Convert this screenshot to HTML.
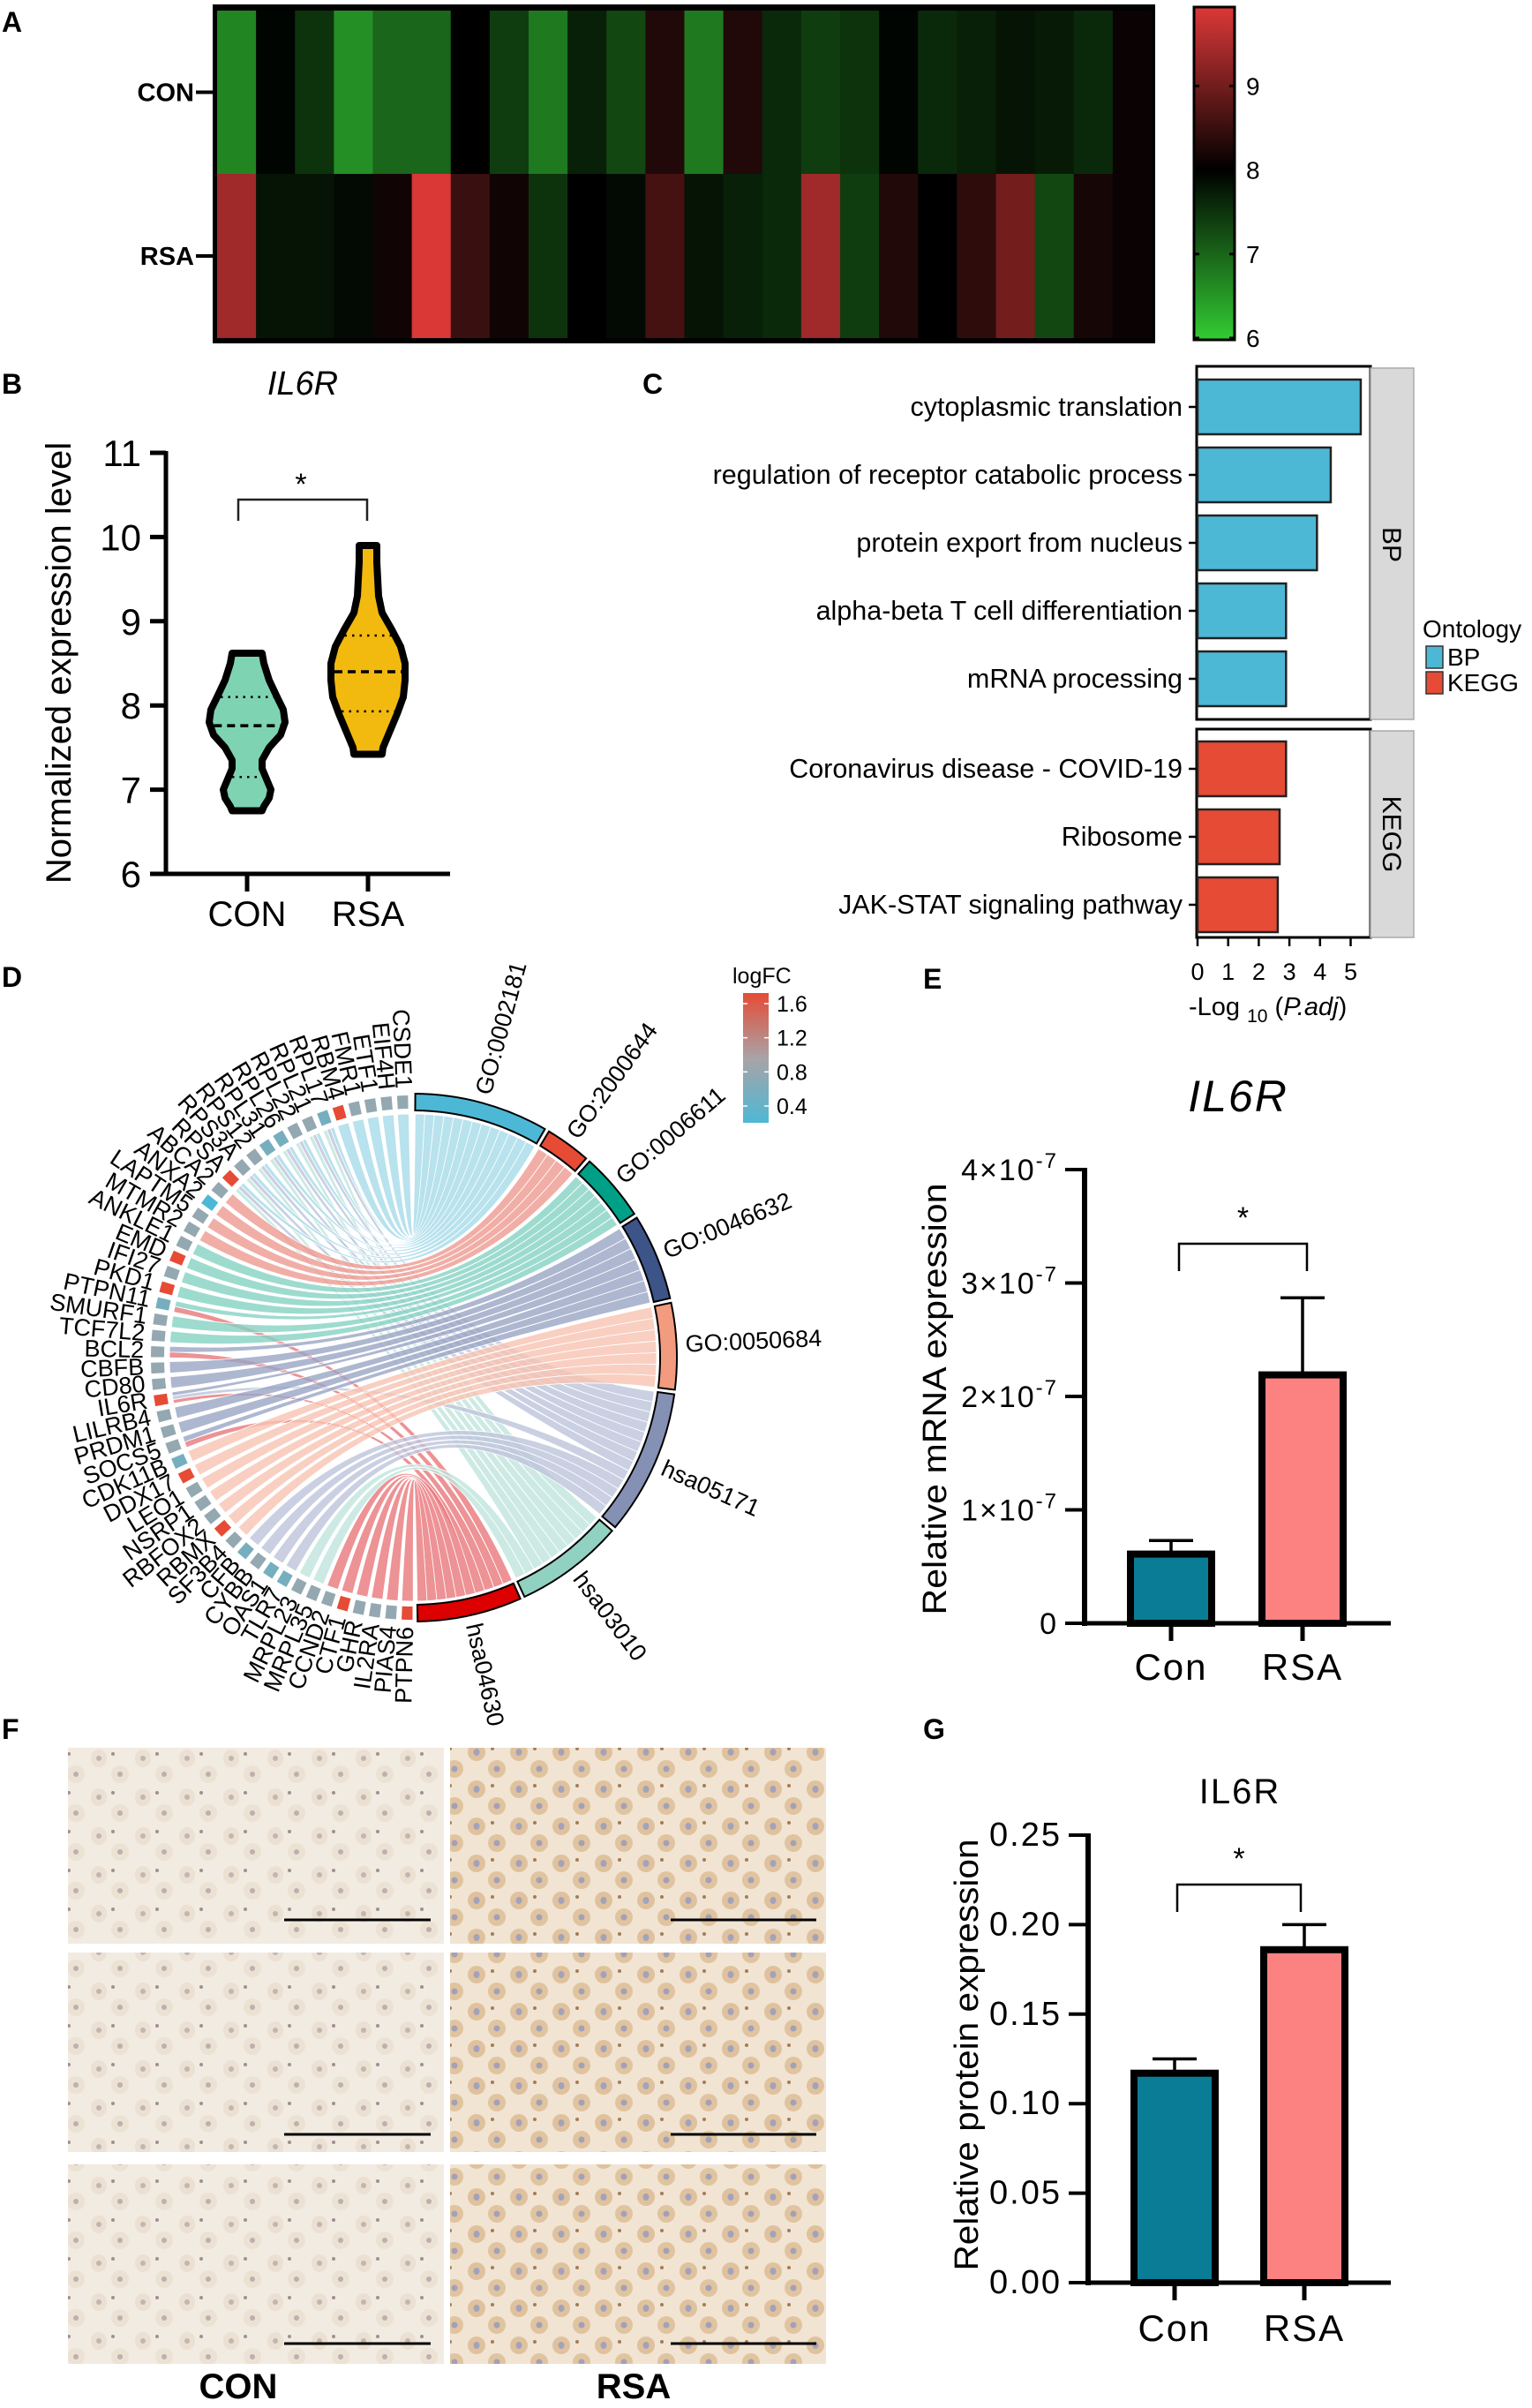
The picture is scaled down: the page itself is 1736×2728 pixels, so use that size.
<!DOCTYPE html>
<html><head><meta charset="utf-8">
<style>
html,body{margin:0;padding:0;background:#fff;}
svg{display:block;font-family:"Liberation Sans",Arial,sans-serif;}
</style></head>
<body>
<svg id="fig" width="1736" height="2728" viewBox="0 0 1736 2728" xmlns="http://www.w3.org/2000/svg">
<defs>
  <linearGradient id="hmGrad" x1="0" y1="1" x2="0" y2="0">
    <stop offset="0" stop-color="#33cc33"/>
    <stop offset="0.51" stop-color="#000000"/>
    <stop offset="1" stop-color="#dd3838"/>
  </linearGradient>
  <linearGradient id="fcGrad" x1="0" y1="1" x2="0" y2="0">
    <stop offset="0" stop-color="#4db8d5"/>
    <stop offset="0.5" stop-color="#a9a3a6"/>
    <stop offset="1" stop-color="#e64b35"/>
  </linearGradient>
  <pattern id="ihcCon" width="50" height="44" patternUnits="userSpaceOnUse">
    <rect width="50" height="44" fill="#f2ebe1"/>
    <ellipse cx="12" cy="12" rx="9" ry="10" fill="#ebe0d1"/>
    <ellipse cx="12" cy="12" rx="3" ry="3" fill="#c2b6b2"/>
    <ellipse cx="36" cy="30" rx="10" ry="10" fill="#ece2d4"/>
    <ellipse cx="36" cy="30" rx="3" ry="3" fill="#bdb0ae"/>
    <circle cx="28" cy="7" r="2" fill="#a09090"/>
  </pattern>
  <pattern id="ihcRsa" width="48" height="42" patternUnits="userSpaceOnUse">
    <rect width="48" height="42" fill="#f1e4d3"/>
    <ellipse cx="12" cy="11" rx="10" ry="10" fill="#dfc29d"/>
    <ellipse cx="12" cy="11" rx="3.5" ry="4" fill="#a4a2bb"/>
    <ellipse cx="35" cy="30" rx="10" ry="10" fill="#e0c49f"/>
    <ellipse cx="35" cy="30" rx="3.5" ry="3.5" fill="#a3a0b8"/>
    <circle cx="30" cy="7" r="2" fill="#a57c55"/>
  </pattern>
</defs>

<g font-weight="bold" font-size="32" fill="#000">
  <text x="2" y="36">A</text>
  <text x="2" y="446">B</text>
  <text x="728" y="446">C</text>
  <text x="2" y="1118">D</text>
  <text x="1046" y="1120">E</text>
  <text x="2" y="1970">F</text>
  <text x="1046" y="1970">G</text>
</g>

<g id="panelA"></g>
<g id="panelB"></g>
<g id="panelC"></g>
<g id="panelD"></g>
<g id="panelE"></g>
<g id="panelF"></g>
<g id="panelG"></g>
</svg>

<script>
// ---------- DATA ----------
const hmRows = ["CON","RSA"];
const hmCon = [6.7,7.95,7.5,6.6,7.0,7.0,8.0,7.4,6.8,7.7,7.3,8.3,6.8,8.3,7.6,7.4,7.5,7.95,7.6,7.7,7.8,7.75,7.6,8.1];
const hmRsa = [9.4,7.8,7.8,7.9,8.15,9.9,8.5,8.15,7.5,8.0,7.9,8.6,7.8,7.7,7.6,9.4,7.4,8.3,8.0,8.4,9.0,7.3,8.2,8.1];
const hmTicks = [6,7,8,9];
const vioGroups = ["CON","RSA"];
const vioConShape = [[8.62,17],[8.5,19],[8.3,25],[8.1,34],[7.95,41],[7.8,43],[7.65,38],[7.5,25],[7.35,17],[7.25,17],[7.1,23],[7.0,27],[6.9,25],[6.8,19],[6.75,17]];
const vioRsaShape = [[9.9,10],[9.7,10],[9.5,11],[9.3,12],[9.1,16],[8.9,27],[8.7,37],[8.5,42],[8.3,42],[8.1,40],[7.9,33],[7.7,25],[7.5,17],[7.42,16]];
const vioConQuart = [7.15,7.76,8.1];
const vioRsaQuart = [7.93,8.4,8.83];
const vioTicks = [6,7,8,9,10,11];
const enrTerms = ["cytoplasmic translation","regulation of receptor catabolic process","protein export from nucleus","alpha-beta T cell differentiation","mRNA processing","Coronavirus disease - COVID-19","Ribosome","JAK-STAT signaling pathway"];
const enrValues = [5.33,4.35,3.9,2.89,2.89,2.89,2.68,2.62];
const enrOntology = ["BP","BP","BP","BP","BP","KEGG","KEGG","KEGG"];
const enrTicks = [0,1,2,3,4,5];
const chGenes = ["CSDE1","EIF4H","ETF1","FMR1","RBM4","RPL17","RPL21","RPL22","RPL26","RPL31","RPS12","RPS3A","RPSA","ABCA2","ANXA2","LAPTM5","MTMR2","ANKLE1","EMD","IFI27","PKD1","PTPN11","SMURF1","TCF7L2","BCL2","CBFB","CD80","IL6R","LILRB4","PRDM1","SOCS5","CDK11B","DDX17","LEO1","NSRP1","RBFOX2","RBMX","SF3B4","CFB","CYBB","OAS1","TLR7","MRPL23","MRPL35","CCND2","CTF1","GHR","IL2RA","PIAS4","PTPN6"];
const chLogFC = [0.8,0.8,0.8,0.8,1.6,0.6,0.8,0.8,0.6,0.6,0.8,0.8,1.6,0.8,0.3,0.8,0.8,0.8,1.6,0.8,1.6,0.6,0.8,0.8,0.8,0.8,0.8,1.6,0.8,0.8,0.8,0.6,1.6,0.8,0.8,0.8,1.6,0.8,0.6,0.8,0.6,0.6,0.8,0.8,0.8,1.6,0.8,0.8,0.8,1.6];
const chTerms = ["GO:0002181","GO:2000644","GO:0006611","GO:0046632","GO:0050684","hsa05171","hsa03010","hsa04630"];
const chTermStart = [0.5,31,42,58,78,98,131,156];
const chTermEnd = [30,41,57,77,97,130,155,179];
const chLinkGene = ["CSDE1","EIF4H","ETF1","FMR1","RBM4","RPL17","RPL17","RPL17","RPL21","RPL21","RPL21","RPL22","RPL22","RPL22","RPL26","RPL26","RPL26","RPL31","RPL31","RPL31","RPS12","RPS12","RPS12","RPS3A","RPS3A","RPS3A","RPSA","RPSA","RPSA","ABCA2","ANXA2","LAPTM5","MTMR2","ANKLE1","EMD","IFI27","PKD1","PTPN11","PTPN11","SMURF1","TCF7L2","BCL2","BCL2","CBFB","CD80","IL6R","IL6R","IL6R","LILRB4","PRDM1","SOCS5","SOCS5","CDK11B","DDX17","LEO1","NSRP1","RBFOX2","RBMX","SF3B4","CFB","CYBB","OAS1","TLR7","MRPL23","MRPL35","CCND2","CTF1","GHR","IL2RA","PIAS4","PTPN6"];
const chLinkTerm = ["GO:0002181","GO:0002181","GO:0002181","GO:0002181","GO:0002181","GO:0002181","hsa05171","hsa03010","GO:0002181","hsa05171","hsa03010","GO:0002181","hsa05171","hsa03010","GO:0002181","hsa05171","hsa03010","GO:0002181","hsa05171","hsa03010","GO:0002181","hsa05171","hsa03010","GO:0002181","hsa05171","hsa03010","GO:0002181","hsa05171","hsa03010","GO:2000644","GO:2000644","GO:2000644","GO:2000644","GO:0006611","GO:0006611","GO:0006611","GO:0006611","GO:0006611","hsa04630","GO:0006611","GO:0006611","GO:0046632","hsa04630","GO:0046632","GO:0046632","GO:0046632","hsa05171","hsa04630","GO:0046632","GO:0046632","GO:0046632","hsa04630","GO:0050684","GO:0050684","GO:0050684","GO:0050684","GO:0050684","GO:0050684","GO:0050684","hsa05171","hsa05171","hsa05171","hsa05171","hsa03010","hsa03010","hsa04630","hsa04630","hsa04630","hsa04630","hsa04630","hsa04630"];
const chFcTicks = [0.4,0.8,1.2,1.6];
const mrGroups = ["Con","RSA"];
const mrMeans = [0.61,2.19];
const mrErr = [0.73,2.87];
const mrTicks = [0,1,2,3,4];
const prGroups = ["Con","RSA"];
const prMeans = [0.117,0.186];
const prErr = [0.125,0.2];
const prTicks = ["0.00","0.05","0.10","0.15","0.20","0.25"];

// ---------- HELPERS ----------
const NS="http://www.w3.org/2000/svg";
function mk(tag, attrs, parent){const e=document.createElementNS(NS,tag);for(const k in attrs)e.setAttribute(k,attrs[k]);if(parent)parent.appendChild(e);return e;}
function txt(parent,x,y,s,attrs){const t=mk('text',Object.assign({x:x,y:y},attrs||{}),parent);t.textContent=s;return t;}
function lerp(a,b,t){return a+(b-a)*t;}
function mix(c1,c2,t){return 'rgb('+[0,1,2].map(i=>Math.round(lerp(c1[i],c2[i],t))).join(',')+')';}

// ---------- A HEATMAP ----------
(function(){
  const g=document.getElementById('panelA');
  const x0=246,x1=1305,yTop=12,yMid=197,yBot=383;
  const cw=(x1-x0)/hmCon.length;
  function col(v){ if(v<8){return mix([0,0,0],[51,204,51],Math.min(1,(8-v)/2));} return mix([0,0,0],[221,56,56],Math.min(1,(v-8)/1.93)); }
  const fr=mk('rect',{x:241,y:5,width:1068,height:384,fill:'#000'},g);
  
  [[hmCon,yTop,yMid,'con'],[hmRsa,yMid,yBot,'rsa']].forEach(([arr,ya,yb,nm])=>{
    arr.forEach((v,i)=>{
      const r=mk('rect',{x:x0+i*cw,y:ya,width:cw+0.5,height:yb-ya,fill:col(v)},g);
      
      
    });
  });
  const ry=[(yTop+yMid)/2,(yMid+yBot)/2];
  hmRows.forEach((n,i)=>{
    const t=txt(g,220,ry[i]+10,n,{'text-anchor':'end','font-weight':'bold','font-size':'29'});
    
    
    mk('line',{x1:222,x2:241,y1:ry[i],y2:ry[i],stroke:'#000','stroke-width':4},g);
  });
  const cb=mk('rect',{x:1353,y:8,width:46,height:377,fill:'url(#hmGrad)',stroke:'#000','stroke-width':3},g);
  
  
  const cy=v=>383-(v-6)*95.2;
  hmTicks.forEach(v=>{
    mk('line',{x1:1353,x2:1359,y1:cy(v),y2:cy(v),stroke:'#000','stroke-width':3},g);
    mk('line',{x1:1393,x2:1399,y1:cy(v),y2:cy(v),stroke:'#000','stroke-width':3},g);
    const t=txt(g,1412,cy(v)+10,String(v),{'font-size':'28'});
    
    
  });
})();

// ---------- B VIOLIN ----------
(function(){
  const g=document.getElementById('panelB');
  const ax=188, y0=990, per=95.4;
  const Y=v=>y0-(v-6)*per;
  const cx=[280,417];
  const t=txt(g,343,447,'IL6R',{'font-style':'italic','font-size':'38','text-anchor':'middle'});
  
  const yl=txt(g,0,0,'Normalized expression level',{'font-size':'40','text-anchor':'middle',transform:'translate(80,751) rotate(-90)'});
  
  mk('line',{x1:ax,x2:ax,y1:Y(11)-2,y2:y0+2,stroke:'#000','stroke-width':5},g);
  mk('line',{x1:ax-2,x2:510,y1:y0,y2:y0,stroke:'#000','stroke-width':5},g);
  vioTicks.forEach(v=>{
    mk('line',{x1:ax-18,x2:ax,y1:Y(v),y2:Y(v),stroke:'#000','stroke-width':5},g);
    const tt=txt(g,160,Y(v)+15,String(v),{'font-size':'42','text-anchor':'end'});
    
  });
  vioGroups.forEach((n,i)=>{
    mk('line',{x1:cx[i],x2:cx[i],y1:y0,y2:y0+20,stroke:'#000','stroke-width':5},g);
    const tt=txt(g,cx[i],1049,n,{'font-size':'40','text-anchor':'middle'});
    
  });
  function violin(shape,c,fill,name,quart){
    let d='';
    shape.forEach((p,k)=>{d+=(k?'L':'M')+(c+p[1])+','+Y(p[0]);});
    for(let k=shape.length-1;k>=0;k--){d+='L'+(c-shape[k][1])+','+Y(shape[k][0]);}
    d+='Z';
    const p=mk('path',{d:d,fill:fill,stroke:'#000','stroke-width':8,'stroke-linejoin':'round'},g);
    
    function hw(v){for(let k=0;k<shape.length-1;k++){const a=shape[k],b=shape[k+1];if(v<=a[0]&&v>=b[0]){return lerp(a[1],b[1],(a[0]-v)/(a[0]-b[0]));}}return 10;}
    quart.forEach((q,k)=>{
      const w=hw(q)-4;
      mk('line',{x1:c-w,x2:c+w,y1:Y(q),y2:Y(q),stroke:'#000','stroke-width':k==1?3.5:2.5,'stroke-dasharray':k==1?'9,6':'2.5,6'},g);
    });
  }
  violin(vioConShape,cx[0],'#7ed3b2','violin-con',vioConQuart);
  violin(vioRsaShape,cx[1],'#f2b90f','violin-rsa',vioRsaQuart);
  mk('path',{d:'M270,590 V566 H416 V590',fill:'none',stroke:'#222','stroke-width':2.5},g);
  const s=txt(g,341,560,'*',{'font-size':'34','text-anchor':'middle'});
  
})();

// ---------- C ENRICHMENT ----------
(function(){
  const g=document.getElementById('panelC');
  const x0=1357, unit=34.7;
  const centers=[461,538,615,692,769,871,948,1025];
  const colors={BP:'#4db8d5',KEGG:'#e64b35'};
  mk('rect',{x:1356,y:415,width:197,height:400,fill:'#fff',stroke:'#000','stroke-width':3},g);
  mk('rect',{x:1356,y:826,width:197,height:236,fill:'#fff',stroke:'#000','stroke-width':3},g);
  mk('rect',{x:1553,y:417,width:49,height:398,fill:'#d9d9d9',stroke:'#aaa','stroke-width':1.5},g);
  mk('rect',{x:1553,y:828,width:49,height:234,fill:'#d9d9d9',stroke:'#aaa','stroke-width':1.5},g);
  const s1=txt(g,0,0,'BP',{'font-size':'30','text-anchor':'middle',transform:'translate(1567,617) rotate(90)'});
  
  const s2=txt(g,0,0,'KEGG',{'font-size':'30','text-anchor':'middle',transform:'translate(1567,945) rotate(90)'});
  
  enrTerms.forEach((n,i)=>{
    const r=mk('rect',{x:x0,y:centers[i]-31,width:enrValues[i]*unit,height:62,fill:colors[enrOntology[i]],stroke:'#222','stroke-width':2.5},g);
    
    
    mk('line',{x1:1347,x2:1356,y1:centers[i],y2:centers[i],stroke:'#000','stroke-width':2.5},g);
    const t=txt(g,1340,centers[i]+10,n,{'font-size':'30.5','text-anchor':'end'});
    
  });
  enrTicks.forEach(v=>{
    mk('line',{x1:x0+v*unit,x2:x0+v*unit,y1:1062,y2:1072,stroke:'#000','stroke-width':2.5},g);
    const t=txt(g,x0+v*unit,1110,String(v),{'font-size':'27','text-anchor':'middle'});
    
  });
  const xl=mk('text',{x:1347,y:1150,'font-size':'29'},g);
  xl.innerHTML='-Log <tspan font-size="21" dy="8">10</tspan><tspan dy="-8"> (</tspan><tspan font-style="italic">P.adj</tspan>)';
  
  const lt=txt(g,1612,722,'Ontology',{'font-size':'28'});
  
  [['BP',732],['KEGG',761]].forEach(([n,y])=>{
    const r=mk('rect',{x:1616,y:y,width:19,height:25,fill:colors[n],stroke:'#333','stroke-width':1.5},g);
    
    const t=txt(g,1640,y+22,n,{'font-size':'28'});
    
  });
})();

// ---------- D CHORD ----------
(function(){
  const g=document.getElementById('panelD');
  const cx=468, cy=1538, Rin=280, Rout=299, Rch=276;
  const termFill=['#4db8d5','#e64b35','#00a087','#3c5488','#f39b7f','#8491b4','#91d1c2','#dc0000'];
  const chordFill=['#a6dbe9','#ee9a90','#86d2c3','#9aa5c4','#f7c3b2','#bdc4db','#bfe5dc','#e9777a'];
  const P=(r,a)=>{const t=a*Math.PI/180;return [cx+r*Math.sin(t),cy-r*Math.cos(t)];};
  const gStart=357.7, gStep=(357.7-181.3)/(chGenes.length-1), gHalf=1.35;
  const geneAng=chGenes.map((n,i)=>gStart-i*gStep);
  function fcCol(v){const t=Math.max(0,Math.min(1,(v-0.3)/1.3)); return t<0.5?mix([77,184,213],[169,163,166],t/0.5):mix([169,163,166],[230,75,53],(t-0.5)/0.5);}
  const geneLinks={}, termLinks={};
  chLinkGene.forEach((gn,k)=>{(geneLinks[gn]=geneLinks[gn]||[]).push(k);(termLinks[chLinkTerm[k]]=termLinks[chLinkTerm[k]]||[]).push(k);});
  const gSlot={}, tSlot={};
  chGenes.forEach((gn,i)=>{
    const ls=geneLinks[gn]||[]; const a0=geneAng[i]-gHalf, w=2*gHalf/Math.max(1,ls.length);
    ls.forEach((k,j)=>{gSlot[k]=[a0+(ls.length-1-j)*w, a0+(ls.length-j)*w];});
  });
  chTerms.forEach((tn,ti)=>{
    const ls=(termLinks[tn]||[]).slice().sort((a,b)=>chGenes.indexOf(chLinkGene[a])-chGenes.indexOf(chLinkGene[b]));
    const a0=chTermStart[ti], w=(chTermEnd[ti]-chTermStart[ti])/Math.max(1,ls.length);
    ls.forEach((k,j)=>{tSlot[k]=[a0+j*w,a0+(j+1)*w];});
  });
  const chordG=mk('g',{},g);
  chLinkGene.forEach((gn,k)=>{
    const ti=chTerms.indexOf(chLinkTerm[k]);
    const [g1,g2]=gSlot[k], [t1,t2]=tSlot[k];
    const pg1=P(Rch,g1), pg2=P(Rch,g2), pt1=P(Rch,t1), pt2=P(Rch,t2);
    const d='M'+pg1+' A'+Rch+','+Rch+' 0 0 1 '+pg2+' Q'+cx+','+cy+' '+pt1+' A'+Rch+','+Rch+' 0 0 1 '+pt2+' Q'+cx+','+cy+' '+pg1+' Z';
    const p=mk('path',{d:d,fill:chordFill[ti],'fill-opacity':0.8,stroke:'#fff','stroke-width':0.8},chordG);
    
    
  });
  chTerms.forEach((tn,ti)=>{
    const a=chTermStart[ti], b=chTermEnd[ti];
    const o1=P(Rout,a),o2=P(Rout,b),i2=P(Rin,b),i1=P(Rin,a);
    const lg=(b-a)>180?1:0;
    const d='M'+o1+' A'+Rout+','+Rout+' 0 '+lg+' 1 '+o2+' L'+i2+' A'+Rin+','+Rin+' 0 '+lg+' 0 '+i1+' Z';
    const p=mk('path',{d:d,fill:termFill[ti],stroke:'#000','stroke-width':2},g);
    
    
    const m=(a+b)/2, lp=P(Rout+10,m);
    const t=txt(g,lp[0],lp[1],tn,{'font-size':'27','dominant-baseline':'middle',transform:'rotate('+(m-90)+','+lp[0]+','+lp[1]+')'});
    
    
  });
  chGenes.forEach((gn,i)=>{
    const a=geneAng[i], a1=a-1.2, a2=a+1.2;
    const o1=P(Rout-2,a1),o2=P(Rout-2,a2),i2=P(Rin+2,a2),i1=P(Rin+2,a1);
    const d='M'+o1+' A'+(Rout-2)+','+(Rout-2)+' 0 0 1 '+o2+' L'+i2+' A'+(Rin+2)+','+(Rin+2)+' 0 0 0 '+i1+' Z';
    const p=mk('path',{d:d,fill:fcCol(chLogFC[i])},g);
    
    
    const lp=P(Rout+6,a);
    const t=txt(g,lp[0],lp[1],gn,{'font-size':'27','text-anchor':'end','dominant-baseline':'middle',transform:'rotate('+(a+90)+','+lp[0]+','+lp[1]+')'});
    
    
  });
  const lt=txt(g,830,1114,'logFC',{'font-size':'25'});
  
  mk('rect',{x:842,y:1125,width:29,height:147,fill:'url(#fcGrad)'},g);
  const fy=v=>1253-(v-0.4)*(1253-1137)/1.2;
  chFcTicks.forEach(v=>{
    mk('line',{x1:842,x2:847,y1:fy(v),y2:fy(v),stroke:'#fff','stroke-width':1.5},g);
    mk('line',{x1:866,x2:871,y1:fy(v),y2:fy(v),stroke:'#fff','stroke-width':1.5},g);
    const t=txt(g,880,fy(v)+9,v.toFixed(1),{'font-size':'25'});
    
  });
})();

// ---------- bar chart helper for E/G ----------
function barChart(g,o){
  const Y=v=>o.y0-v*o.per;
  const tt=txt(g,o.titleX,o.titleY,o.title,{'font-size':o.titleSize,'text-anchor':'middle','font-style':o.italic?'italic':'normal','letter-spacing':'2'});
  
  const yl=txt(g,0,0,o.ylabel,{'font-size':'38','text-anchor':'middle',textLength:o.ylen,lengthAdjust:'spacingAndGlyphs',transform:'translate('+o.ylx+','+o.yly+') rotate(-90)'});
  
  mk('line',{x1:o.ax,x2:o.ax,y1:Y(o.ymax)-2,y2:o.y0+3,stroke:'#000','stroke-width':6},g);
  mk('line',{x1:o.ax-3,x2:1576,y1:o.y0,y2:o.y0,stroke:'#000','stroke-width':5},g);
  o.ticks.forEach((lab,i)=>{
    const v=o.tickVals[i];
    mk('line',{x1:o.ax-22,x2:o.ax,y1:Y(v),y2:Y(v),stroke:'#000','stroke-width':4},g);
    const t=mk('text',{x:o.ax-30,y:Y(v)+12,'font-size':o.tickSize,'text-anchor':'end','letter-spacing':'2'},g);
    t.innerHTML=lab;
    
  });
  o.groups.forEach((n,i)=>{
    const c=o.cx[i], hw=46;
    mk('line',{x1:c,x2:c,y1:Y(o.means[i]),y2:Y(o.err[i]),stroke:'#000','stroke-width':3.5},g);
    mk('line',{x1:c-25,x2:c+25,y1:Y(o.err[i]),y2:Y(o.err[i]),stroke:'#000','stroke-width':3.5},g);
    const r=mk('rect',{x:c-hw,y:Y(o.means[i]),width:2*hw,height:o.means[i]*o.per,fill:o.fills[i],stroke:'#000','stroke-width':8},g);
    
    mk('line',{x1:c,x2:c,y1:o.y0,y2:o.y0+20,stroke:'#000','stroke-width':5},g);
    const t=txt(g,c,o.catY,n,{'font-size':'42','text-anchor':'middle','letter-spacing':'2'});
    
  });
  mk('path',{d:'M'+o.br[0]+','+o.br[3]+' V'+o.br[2]+' H'+o.br[1]+' V'+o.br[3],fill:'none',stroke:'#000','stroke-width':2.5},g);
  const s=txt(g,(o.br[0]+o.br[1])/2,o.br[2]-18,'*',{'font-size':'34','text-anchor':'middle'});
  
}
barChart(document.getElementById('panelE'),{
  y0:1839, per:128.5, ax:1229, ymax:4, title:'IL6R', italic:true, titleX:1403, titleY:1259, titleSize:50,
  ylabel:'Relative mRNA expression', ylx:1072, yly:1585, ylen:489,
  ticks:mrTicks.map(v=>v===0?'0':v+'×10<tspan dy="-14" font-size="24">-7</tspan>'), tickVals:mrTicks, tickSize:34,
  groups:mrGroups, means:mrMeans, err:mrErr, cx:[1327,1476], fills:['#0a7c96','#fc8181'],
  catY:1903, br:[1336,1481,1409,1440]
});
barChart(document.getElementById('panelG'),{
  y0:2586, per:2028, ax:1233, ymax:0.25, title:'IL6R', italic:false, titleX:1405, titleY:2043, titleSize:40,
  ylabel:'Relative protein expression', ylx:1108, yly:2328, ylen:489,
  ticks:prTicks, tickVals:prTicks.map(Number), tickSize:38,
  groups:prGroups, means:prMeans, err:prErr, cx:[1331,1478], fills:['#0a7c96','#fc8181'],
  catY:2652, br:[1334,1474,2135,2166]
});

// ---------- F IHC ----------
(function(){
  const g=document.getElementById('panelF');
  const cols=[[77,503,'ihcCon','con'],[510,936,'ihcRsa','rsa']];
  const rows=[[1980,2202,2175],[2212,2438,2418],[2452,2678,2655]];
  cols.forEach(([xa,xb,pat,nm],ci)=>{
    rows.forEach(([ya,yb,sb],ri)=>{
      const r=mk('rect',{x:xa,y:ya,width:xb-xa,height:yb-ya,fill:'url(#'+pat+')'},g);
      
      
      const sx=ci?[760,925]:[322,488];
      mk('line',{x1:sx[0],x2:sx[1],y1:sb,y2:sb,stroke:'#000','stroke-width':3},g);
    });
  });
  const a=txt(g,270,2717,'CON',{'font-size':'40','font-weight':'bold','text-anchor':'middle'});
  
  const b=txt(g,718,2717,'RSA',{'font-size':'40','font-weight':'bold','text-anchor':'middle'});
  
})();
</script>
</body></html>
